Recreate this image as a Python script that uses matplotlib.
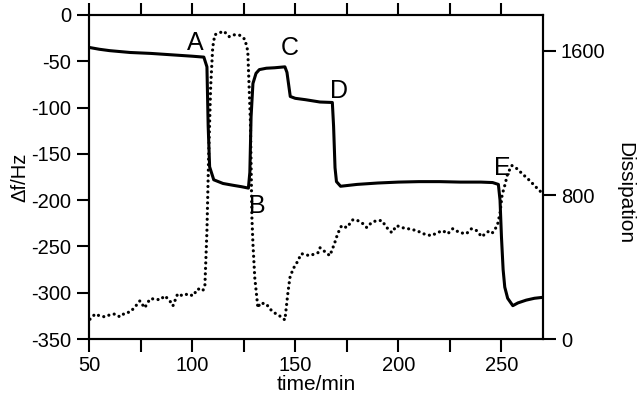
import matplotlib
matplotlib.use("Agg")
import matplotlib.pyplot as plt
from matplotlib.ticker import MultipleLocator

plt.rcParams["font.family"] = ["Liberation Sans", "DejaVu Sans"]
plt.rcParams["axes.unicode_minus"] = False

# frequency shift (left axis)
t_freq = [50, 55, 60, 70, 80, 90, 100, 105.7, 107.2, 107.8, 108.5, 110.5, 115, 120, 124, 127.3,
          128.0, 128.6, 129.5, 131, 132.6, 136, 140, 145, 146, 147.6, 150, 155, 162, 168,
          168.6, 169.3, 170, 172, 176, 180, 190, 200, 210, 220, 230, 240, 245.7, 248.5,
          249.3, 250, 250.8, 251.6, 253, 255.5, 258, 262, 266, 270]
df_hz = [-35, -37, -38.5, -40.5, -41.5, -43, -44.5, -45.5, -56, -120, -164, -178, -182, -184, -185.5, -187,
         -170, -110, -74, -63, -59, -57.5, -57, -56, -62, -88, -90, -91.5, -94, -94.5,
         -120, -165, -180, -185, -184, -183, -181.5, -180.5, -180, -180, -180.5, -180.5, -181, -183,
         -200, -240, -275, -294, -306, -314, -311, -308, -306, -305]

# dissipation (right axis)
t_diss = [50.5, 53, 55.3, 57.8, 60, 62.6, 65, 67.5, 70, 72.3, 74.7, 77, 79.6, 82, 84.4, 86.8,
          89.2, 90.7, 93, 95.5, 98, 100.4, 102.8, 105.2, 106.2, 107.2, 108, 109, 110, 111,
          113, 115.4, 118, 120, 123, 125.6, 127, 128.3, 129, 129.5, 130.4, 131.9, 133, 136,
          137.7, 140, 142.5, 145, 146.4, 147.4, 149, 150.8, 153, 157, 161, 162, 166.8, 169,
          170.6, 172.5, 175, 178, 180.3, 182.8, 184.7, 187, 189.5, 192, 194.4, 196.8, 199.2,
          201.6, 204.6, 209, 212, 216, 219, 221.5, 224, 226.4, 229.7, 233, 235.5, 238, 240.4,
          242.8, 244.3, 245.7, 248, 249.3, 250.3, 251.6, 253, 255, 257.4, 260, 263.7, 267, 269.5]
dissipation = [110, 139, 128, 123, 134, 139, 123, 145, 150, 178, 212, 173, 223, 223, 217, 240,
               212, 184, 251, 240, 251, 240, 279, 268, 295, 600, 1000, 1400, 1620, 1690,
               1700, 1710, 1680, 1690, 1688, 1665, 1600, 1200, 675, 529, 340, 173, 200, 195,
               167, 145, 128, 106, 251, 340, 390, 424, 474, 463, 479, 507, 463, 529,
               585, 630, 619, 663, 658, 641, 619, 647, 658, 658, 619, 591, 630,
               619, 613, 602, 585, 574, 591, 602, 585, 613, 591, 585, 613, 602, 568,
               591, 602, 591, 630, 700, 800, 853, 919, 964, 947, 919, 880, 841, 813]

# event markers, baseline positions
labels = ["A", "B", "C", "D", "E"]
label_t = [101.4, 131.6, 147.2, 171.4, 250.3]
label_hz = [-37.8, -213.8, -43.2, -89.6, -172.8]

FS = 14.5

fig = plt.figure(figsize=(6.4, 4.01), dpi=100)
ax = fig.add_axes([0.139, 0.1546, 0.709, 0.808])
ax2 = ax.twinx()

ax.plot(t_freq, df_hz, color="black", lw=2.2, solid_joinstyle="round")
ax2.plot(t_diss, dissipation, color="black", lw=2.3, linestyle=(0, (0.01, 1.7)),
         dash_capstyle="round")

for lab, tx, hy in zip(labels, label_t, label_hz):
    ax.text(tx, hy, lab, fontsize=18, ha="center", va="baseline")

ax.set_xlim(50, 270)
ax.set_ylim(-350, 0)
ax2.set_ylim(0, 1800)

ax.xaxis.set_major_locator(MultipleLocator(50))
ax.xaxis.set_minor_locator(MultipleLocator(25))
ax.yaxis.set_major_locator(MultipleLocator(50))
ax2.set_yticks([0, 800, 1600])

ax.tick_params(axis="x", which="both", direction="out", top=True, labelsize=FS,
               width=1.5, length=9)
ax.tick_params(axis="x", which="major", pad=3)
ax.tick_params(axis="y", direction="out", labelsize=FS, length=9, width=1.5, pad=4)
ax2.tick_params(axis="y", direction="out", labelsize=FS, length=9, width=1.5, pad=4)

for a in (ax, ax2):
    for s in a.spines.values():
        s.set_linewidth(1.5)

ax.set_xlabel("time/min", fontsize=15, labelpad=0)
ax.set_ylabel("Δf/Hz", fontsize=FS, labelpad=1)
ax2.set_ylabel("Dissipation", fontsize=15, rotation=270, labelpad=21)
ax2.yaxis.label.set_y(0.449)

fig.savefig("out.png", dpi=100)
